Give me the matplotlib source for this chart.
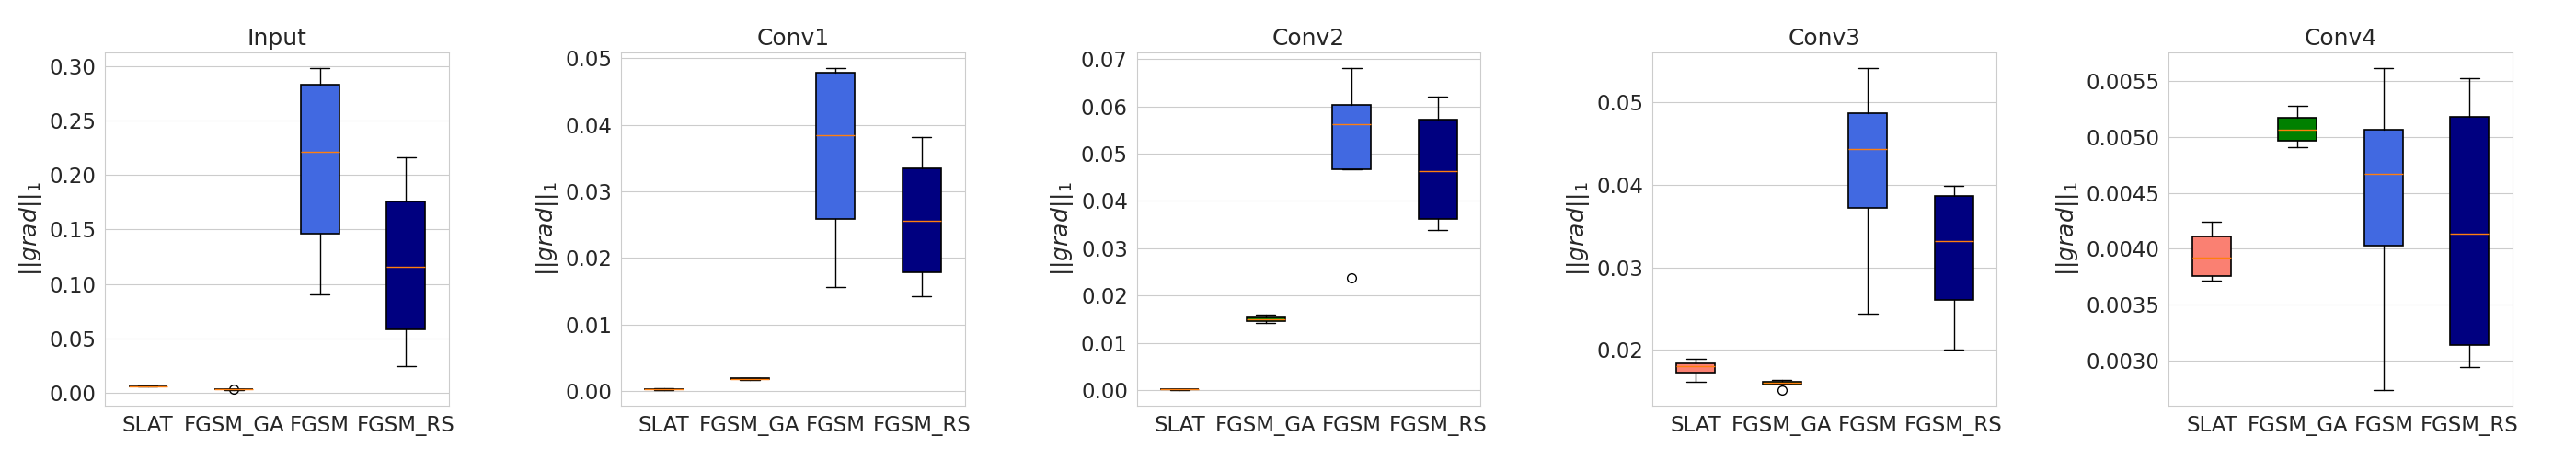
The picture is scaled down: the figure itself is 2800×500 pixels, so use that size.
import matplotlib
matplotlib.use("Agg")
import matplotlib.pyplot as plt
import seaborn as sns

sns.set_style("whitegrid")
plt.rcParams["font.family"] = ["DejaVu Sans"]

# data (box statistics per layer, per method)
layers = ["Input", "Conv1", "Conv2", "Conv3", "Conv4"]
methods = ["SLAT", "FGSM_GA", "FGSM", "FGSM_RS"]
colors = ["salmon", "green", "royalblue", "navy"]

whislo = [
    [0.0054, 0.0027, 0.0899, 0.0242],
    [0.00020, 0.00170, 0.01555, 0.01422],
    [0.00008, 0.01428, 0.04667, 0.03387],
    [0.01619, 0.01590, 0.02433, 0.02000],
    [0.003715, 0.004908, 0.002737, 0.002937],
]
q1 = [
    [0.0057, 0.0029, 0.1463, 0.0579],
    [0.00024, 0.00176, 0.02587, 0.01780],
    [0.00011, 0.01461, 0.04667, 0.03613],
    [0.01730, 0.01585, 0.03715, 0.02607],
    [0.003757, 0.004965, 0.004028, 0.003140],
]
med = [
    [0.0059, 0.0031, 0.2213, 0.1160],
    [0.00028, 0.00183, 0.03840, 0.02550],
    [0.00013, 0.01500, 0.05617, 0.04628],
    [0.01800, 0.01604, 0.04430, 0.03319],
    [0.003921, 0.005064, 0.004669, 0.004135],
]
q3 = [
    [0.0061, 0.0033, 0.2831, 0.1758],
    [0.00032, 0.00190, 0.04775, 0.03344],
    [0.00016, 0.01545, 0.06037, 0.05714],
    [0.01841, 0.01619, 0.04870, 0.03867],
    [0.004110, 0.005171, 0.005064, 0.005179],
]
whishi = [
    [0.0063, 0.0034, 0.2980, 0.2163],
    [0.00035, 0.00195, 0.04844, 0.03812],
    [0.00019, 0.01603, 0.06800, 0.06211],
    [0.01896, 0.01637, 0.05407, 0.03985],
    [0.004245, 0.005278, 0.005615, 0.005530],
]
fliers = [
    [[], [0.0031], [], []],
    [[], [], [], []],
    [[], [], [0.02379], []],
    [[], [0.01519], [], []],
    [[], [], [], []],
]

fig, axes = plt.subplots(1, 5, figsize=(28, 5), dpi=100)
fig.subplots_adjust(left=0.0407, right=0.9754, bottom=0.118, top=0.886, wspace=0.5)

for i, ax in enumerate(axes):
    stats = []
    for j, m in enumerate(methods):
        stats.append(dict(label=m, whislo=whislo[i][j], q1=q1[i][j], med=med[i][j],
                          q3=q3[i][j], whishi=whishi[i][j], fliers=fliers[i][j]))
    bp = ax.bxp(stats, patch_artist=True, showfliers=True,
                boxprops=dict(edgecolor="black", linewidth=1.2),
                whiskerprops=dict(color="black", linewidth=1.0),
                capprops=dict(color="black", linewidth=1.0),
                medianprops=dict(color="#ff7f0e", linewidth=1.0),
                flierprops=dict(marker="o", markerfacecolor="none",
                                markeredgecolor="black", markersize=7))
    for patch, c in zip(bp["boxes"], colors):
        patch.set_facecolor(c)
    ax.set_title(layers[i], fontsize=18)
    ax.set_ylabel(r"$||grad||_1$", fontsize=18)
    ax.tick_params(axis="both", labelsize=16.5)
    ax.xaxis.grid(False)

plt.savefig("out.png")
